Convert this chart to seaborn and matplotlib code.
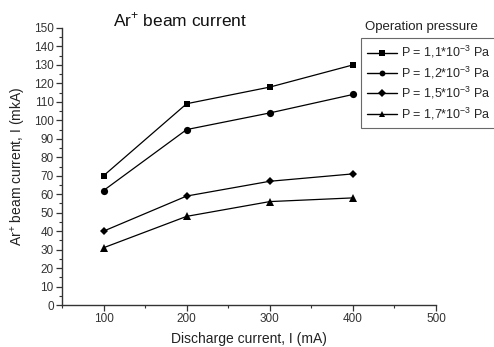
import matplotlib
matplotlib.use("Agg")
import matplotlib.pyplot as plt
from matplotlib.ticker import MultipleLocator
import pandas as pd
import seaborn as sns

discharge = [100, 200, 300, 400]
p11 = [70, 109, 118, 130]
p12 = [62, 95, 104, 114]
p15 = [40, 59, 67, 71]
p17 = [31, 48, 56, 58]
labels = [r"P = 1,1*10$^{-3}$ Pa", r"P = 1,2*10$^{-3}$ Pa",
          r"P = 1,5*10$^{-3}$ Pa", r"P = 1,7*10$^{-3}$ Pa"]

rows = []
for lab, vals in zip(labels, [p11, p12, p15, p17]):
    for x, y in zip(discharge, vals):
        rows.append({"I": x, "beam": y, "pressure": lab})
df = pd.DataFrame(rows)

sns.set_style("ticks")
plt.rcParams["font.family"] = ["Liberation Sans", "DejaVu Sans"]
plt.rcParams["mathtext.fontset"] = "custom"
plt.rcParams["mathtext.rm"] = "Liberation Sans"

fig = plt.figure(figsize=(4.94, 3.47), dpi=100)
ax = fig.add_axes([62 / 494, 1 - 305 / 347, (436 - 62) / 494, (305 - 28) / 347])

markers = dict(zip(labels, ["s", "o", "D", "^"]))
sizes = {"s": 4.8, "o": 5.2, "D": 4.5, "^": 5.5}
palette = {lab: "black" for lab in labels}
sns.lineplot(data=df, x="I", y="beam", hue="pressure", style="pressure",
             palette=palette, markers=markers, dashes=False, ax=ax,
             linewidth=0.9, markersize=5, markeredgewidth=0, legend="full")

for line in ax.lines:
    m = line.get_marker()
    if m in sizes:
        line.set_markersize(sizes[m])

ax.set_xlim(50, 500)
ax.set_ylim(0, 150)
ax.set_xticks([100, 200, 300, 400, 500])
ax.xaxis.set_minor_locator(MultipleLocator(50))
ax.yaxis.set_major_locator(MultipleLocator(10))
ax.yaxis.set_minor_locator(MultipleLocator(5))
ax.tick_params(axis="both", which="major", direction="out", length=4,
               width=0.9, labelsize=8.5, color="#333333", labelcolor="#333333", pad=2)
ax.tick_params(axis="both", which="minor", direction="out", length=2,
               width=0.8, color="#333333")
for side in ["left", "bottom"]:
    ax.spines[side].set_color("#333333")
    ax.spines[side].set_linewidth(1.0)
sns.despine(ax=ax)

ax.set_xlabel("Discharge current, I (mA)", fontsize=10, color="#222222", labelpad=5)
ax.set_ylabel(r"Ar$^{+}$ beam current, I (mkA)", fontsize=10, color="#222222", labelpad=4)

fig.text(180 / 494, 1 - 20 / 347, r"Ar$^{+}$ beam current", fontsize=12.5,
         ha="center", va="center", color="#111111")
fig.text(365 / 494, 1 - 27 / 347, "Operation pressure", fontsize=9.5,
         ha="left", va="center", color="#222222")

handles, labs = ax.get_legend_handles_labels()
leg = ax.legend(handles, labs, loc="upper left",
                bbox_to_anchor=(361 / 494, 1 - 38 / 347),
                bbox_transform=fig.transFigure, fontsize=9, frameon=True,
                fancybox=False, handlelength=2.4, handletextpad=0.3,
                labelspacing=0.34, borderpad=0.5, borderaxespad=0)
leg.get_frame().set_edgecolor("#444444")
leg.get_frame().set_linewidth(0.8)
for h in leg.legend_handles:
    h.set_markersize(4.2)
    h.set_linewidth(1.0)

fig.savefig("out.png", dpi=100)
